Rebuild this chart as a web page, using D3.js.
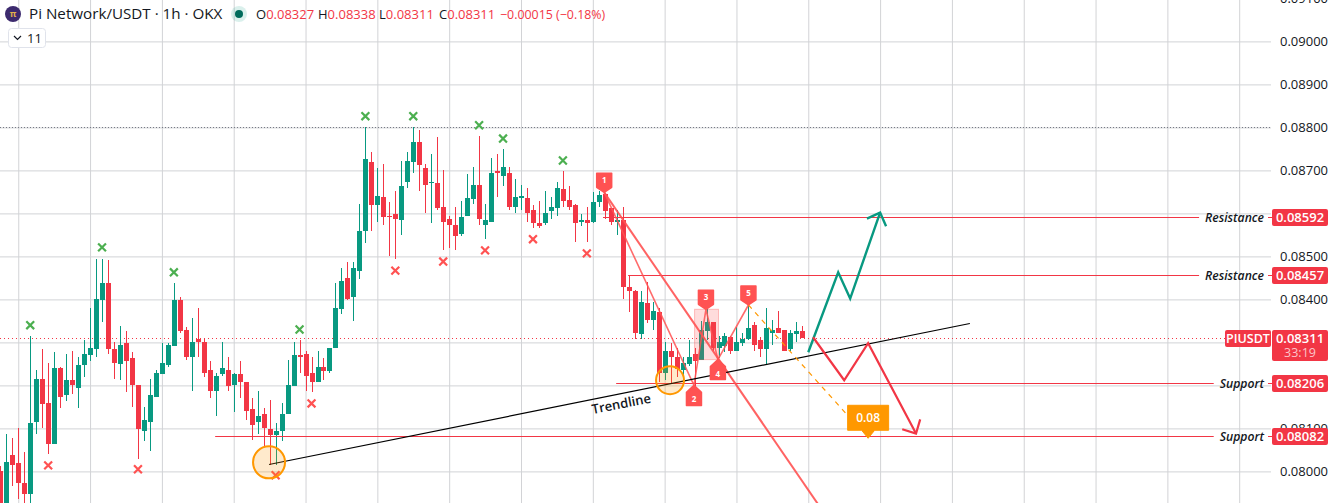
<!DOCTYPE html>
<html>
<head>
<meta charset="utf-8">
<script src="https://cdn.jsdelivr.net/npm/d3@7/dist/d3.min.js"></script>
<style>
  html, body { margin: 0; padding: 0; background: #fff; overflow: hidden; }
  svg { display: block; font-family: "Open Sans", sans-serif; }
</style>
</head>
<body>
<div id="chart"></div>
<script>
// Hourly candles, prices x 100000
var opens = [8000,7909,8037,8019,7974,7947,8116,8214,8158,8063,8240,8177,8212,8195,8247,8270,8284,8398,8437,8284,8249,8298,8263,8200,8095,8116,8174,8226,8247,8291,8398,8328,8265,8309,8302,8235,8186,8226,8235,8200,8226,8209,8144,8116,8133,8098,8084,8095,8133,8198,8270,8272,8228,8209,8242,8233,8286,8377,8449,8405,8467,8560,8719,8619,8637,8595,8598,8584,8672,8719,8767,8705,8670,8670,8614,8586,8574,8551,8593,8633,8667,8572,8581,8698,8686,8693,8614,8635,8635,8609,8577,8577,8605,8612,8656,8630,8619,8581,8584,8579,8626,8644,8612,8581,8584,8430,8419,8319,8391,8353,8370,8228,8279,8265,8235,8249,8272,8258,8326,8347,8288,8291,8312,8281,8298,8309,8340,8305,8284,8321,8333,8328,8284,8319,8327];
var highs = [8012,8088,8077,8100,8044,8314,8235,8284,8253,8277,8242,8274,8281,8267,8305,8379,8493,8495,8491,8302,8337,8326,8277,8200,8149,8214,8235,8298,8298,8437,8405,8335,8356,8379,8309,8256,8230,8300,8267,8228,8256,8209,8170,8188,8147,8165,8112,8158,8258,8300,8305,8279,8267,8279,8263,8288,8437,8472,8488,8488,8621,8800,8742,8705,8716,8626,8651,8723,8742,8800,8795,8714,8737,8777,8700,8595,8616,8628,8691,8707,8779,8621,8728,8737,8749,8707,8681,8667,8658,8619,8628,8651,8637,8674,8698,8663,8621,8598,8616,8649,8653,8647,8612,8607,8614,8456,8423,8419,8440,8395,8379,8302,8298,8288,8265,8305,8286,8349,8377,8347,8316,8323,8314,8335,8321,8386,8347,8312,8381,8351,8374,8328,8330,8347,8338];
var lows = [7886,7863,7965,7935,7926,7909,8086,8102,8040,8063,8147,8163,8179,8147,8219,8256,8265,8347,8272,8214,8212,8184,8149,8030,8070,8047,8174,8226,8242,8291,8321,8260,8188,8265,8219,8170,8130,8221,8188,8137,8170,8119,8074,8088,8058,8016,8016,8070,8133,8198,8228,8186,8184,8209,8212,8228,8286,8365,8398,8349,8447,8530,8560,8581,8572,8500,8493,8549,8660,8693,8651,8600,8577,8607,8514,8519,8514,8547,8593,8621,8572,8540,8581,8637,8663,8607,8600,8609,8579,8565,8567,8574,8588,8595,8616,8607,8533,8570,8533,8577,8614,8586,8572,8549,8400,8370,8307,8307,8344,8330,8207,8212,8205,8219,8214,8244,8195,8258,8305,8281,8263,8277,8272,8281,8291,8305,8279,8267,8249,8293,8321,8279,8281,8300,8311];
var closes = [7909,8021,8014,7972,7947,8112,8214,8156,8063,8240,8174,8212,8200,8247,8272,8286,8400,8437,8284,8253,8293,8256,8200,8098,8119,8177,8228,8253,8293,8398,8326,8265,8302,8300,8230,8186,8223,8240,8198,8226,8207,8140,8109,8128,8100,8084,8093,8133,8202,8270,8267,8223,8209,8242,8233,8286,8379,8442,8402,8472,8558,8726,8619,8640,8591,8591,8586,8663,8721,8767,8712,8667,8672,8612,8581,8572,8547,8591,8635,8667,8586,8584,8695,8693,8709,8614,8637,8640,8602,8577,8570,8602,8616,8658,8628,8614,8577,8584,8577,8626,8642,8605,8581,8584,8428,8419,8321,8393,8353,8372,8230,8279,8267,8237,8253,8267,8256,8328,8347,8288,8302,8314,8281,8300,8309,8333,8293,8284,8333,8330,8321,8281,8321,8326,8311];

// Swing marks: bar number and price x 100000
var swingHighBars = [5,17,29,50,61,69,80,84,94];
var swingHighPrices = [8340,8521,8463,8330,8826,8826,8805,8774,8723];
var swingLowBars = [8,23,46,52,66,74,81,89,98];
var swingLowPrices = [8014,8005,7991,8158,8467,8488,8514,8540,8507];

var yTicks = [0.091,0.09,0.089,0.088,0.087,0.086,0.085,0.084,0.083,0.082,0.081,0.08];
// these sit fully behind a price tag, so only their grid line shows
var coveredTicks = [0.086,0.083,0.082];
var gridBars = d3.range(3, 208, 12);

// Horizontal levels drawn on the chart
var levelPrices = [0.08592,0.08457,0.08206,0.08082];
var levelNames = ["Resistance","Resistance","Support","Support"];
var levelStartBars = [100.7,104.9,102.9,35.9];

var lastPrice = 0.08311;
var highLine = 0.088;
var countdown = "33:19";
var symbolName = "PIUSDT";

// Drawn tools as [bar, price x 100000]
var trendLine = [[44.9,8016],[162,8344]];
var wavePoints = [[100.9,8649],[115.9,8200],[117.9,8377],[119.9,8260],[125,8387]];
var waveLabels = ["1","2","3","4","5"];
var waveUp = [true,false,true,false,true];
var longRun = [[100.9,8649],[137.8,7900]];
var targetLine = [[125,8387],[141.6,8130]];
var targetTip = [145,8077];
var targetText = "0.08";
var patternBox = [[116,8377],[120,8260]];
var circleCentres = [[44.9,8021],[111.9,8212]];
var circleSizes = [16,14];
var greenPath = [[135,8277],[140,8463],[142,8402],[147,8602]];
var greenHead = [[144.8,8588],[147,8602],[148,8570]];
var redPath = [[135.8,8312],[141,8212],[145,8298],[153,8088]];
var redHead = [[150.7,8098],[153,8088],[153.7,8121]];
var trendLabel = [103.9,8147];

var legendTitle = "Pi Network/USDT · 1h · OKX";
var legendParts = [["O","0.08327",256],["H","0.08338",318],["L","0.08311",379],["C","0.08311",439]];
var legendChange = "−0.00015 (−0.18%)";

var svgWidth = 1335;
var svgHeight = 503;
var plotRight = 1271;
var labelLeft = 1272;
var labelWidth = 56;

var green = "#089981";
var red = "#f23645";
var coral = "#ff5252";
var orange = "#ff9800";
var gridColor = "#d2d3d6";

var svg = d3.select("#chart")
  .append("svg")
  .attr("width", svgWidth)
  .attr("height", svgHeight);

var xScale = d3.scaleLinear().domain([0, 207]).range([0.3, 1239.2]);
var yScale = d3.scaleLinear().domain([0.08, 0.09]).range([471.4, 41.4]);

function px(p) { return xScale(p[0]); }
function py(p) { return yScale(p[1] / 100000); }
var pathLine = d3.line().x(px).y(py);

// Grid and price axis
var xAxis = d3.axisBottom(xScale).tickValues(gridBars).tickSize(-svgHeight).tickFormat("");
var xGroup = svg.append("g").attr("transform", "translate(0," + svgHeight + ")").call(xAxis);
xGroup.select(".domain").remove();
xGroup.selectAll("line").attr("stroke", gridColor);

var yAxis = d3.axisRight(yScale)
  .tickValues(yTicks)
  .tickSize(-plotRight)
  .tickPadding(9)
  .tickFormat(d => coveredTicks.includes(d) ? "" : d3.format(".5f")(d));
var yGroup = svg.append("g").attr("transform", "translate(" + plotRight + ",0)").call(yAxis);
yGroup.select(".domain").remove();
yGroup.selectAll("line").attr("stroke", gridColor);
yGroup.selectAll("text")
  .attr("font-size", "13px")
  .attr("font-family", "'Open Sans', sans-serif")
  .attr("fill", "#131722");

// Dotted price lines
svg.append("line")
  .attr("x1", 0).attr("x2", plotRight)
  .attr("y1", Math.round(yScale(highLine)) + 0.5).attr("y2", Math.round(yScale(highLine)) + 0.5)
  .attr("stroke", "#787b86").attr("stroke-dasharray", "1 2");
svg.append("line")
  .attr("x1", 0).attr("x2", 1225)
  .attr("y1", Math.round(yScale(lastPrice)) + 0.5).attr("y2", Math.round(yScale(lastPrice)) + 0.5)
  .attr("stroke", red).attr("stroke-dasharray", "1 3");

// Candles
var candles = opens.map(function(o, i) {
  return { bar: i, open: o / 100000, high: highs[i] / 100000, low: lows[i] / 100000, close: closes[i] / 100000 };
});
var candleColor = function(d) { return d.close >= d.open ? green : red; };

svg.selectAll(".wick")
  .data(candles)
  .enter()
  .append("rect")
  .attr("class", "wick")
  .attr("x", d => Math.round(xScale(d.bar)))
  .attr("width", 1)
  .attr("y", d => Math.round(yScale(d.high)))
  .attr("height", d => Math.max(1, Math.round(yScale(d.low)) - Math.round(yScale(d.high))))
  .attr("fill", candleColor);

svg.selectAll(".body")
  .data(candles)
  .enter()
  .append("rect")
  .attr("class", "body")
  .attr("x", d => Math.round(xScale(d.bar)) - 2)
  .attr("width", 5)
  .attr("y", d => Math.round(yScale(Math.max(d.open, d.close))))
  .attr("height", d => Math.max(1, Math.round(yScale(Math.min(d.open, d.close))) - Math.round(yScale(Math.max(d.open, d.close)))))
  .attr("fill", candleColor);

// Swing high / low crosses
var crossPath = d3.symbol().type(d3.symbolX).size(42);
swingHighBars.forEach(function(b, i) {
  svg.append("path").attr("d", crossPath)
    .attr("transform", "translate(" + xScale(b) + "," + yScale(swingHighPrices[i] / 100000) + ")")
    .attr("fill", "none").attr("stroke", "#4caf50").attr("stroke-width", 2.2);
});
swingLowBars.forEach(function(b, i) {
  svg.append("path").attr("d", crossPath)
    .attr("transform", "translate(" + xScale(b) + "," + yScale(swingLowPrices[i] / 100000) + ")")
    .attr("fill", "none").attr("stroke", coral).attr("stroke-width", 2.2);
});

// Levels with their names and price tags
levelPrices.forEach(function(p, i) {
  var y = Math.round(yScale(p)) + 0.5;
  var name = svg.append("text")
    .attr("x", 1264).attr("y", y + 4)
    .attr("text-anchor", "end")
    .attr("font-family", "'Open Sans', sans-serif")
    .attr("font-size", "12.2px").attr("font-style", "italic").attr("font-weight", 600)
    .attr("fill", "#131722")
    .text(levelNames[i]);
  var nameWidth = name.node().getComputedTextLength();
  svg.append("line")
    .attr("x1", xScale(levelStartBars[i])).attr("x2", 1264 - nameWidth - 6)
    .attr("y1", y).attr("y2", y)
    .attr("stroke", red);
  svg.append("line")
    .attr("x1", 1268).attr("x2", labelLeft)
    .attr("y1", y).attr("y2", y)
    .attr("stroke", red);
  svg.append("rect")
    .attr("x", labelLeft).attr("y", y - 8.5)
    .attr("width", labelWidth).attr("height", 17)
    .attr("rx", 2).attr("fill", red);
  svg.append("text")
    .attr("x", labelLeft + labelWidth / 2).attr("y", y + 4.5)
    .attr("text-anchor", "middle")
    .attr("font-size", "13px").attr("font-weight", 600)
    .attr("fill", "#fff")
    .text(d3.format(".5f")(p));
});

// Last price tag
var lastY = Math.round(yScale(lastPrice));
svg.append("rect").attr("x", 1225).attr("y", lastY - 8).attr("width", 46).attr("height", 17).attr("rx", 2).attr("fill", red);
svg.append("text").attr("x", 1248).attr("y", lastY + 5)
  .attr("text-anchor", "middle").attr("font-size", "12.5px").attr("font-weight", 600).attr("fill", "#fff").text(symbolName);
svg.append("rect").attr("x", labelLeft).attr("y", lastY - 8).attr("width", labelWidth).attr("height", 31).attr("rx", 2).attr("fill", red);
svg.append("text").attr("x", labelLeft + labelWidth / 2).attr("y", lastY + 5)
  .attr("text-anchor", "middle").attr("font-size", "13px").attr("font-weight", 600).attr("fill", "#fff").text(d3.format(".5f")(lastPrice));
svg.append("text").attr("x", labelLeft + labelWidth / 2).attr("y", lastY + 19)
  .attr("text-anchor", "middle").attr("font-size", "12.5px").attr("fill", "#fcc5ca").text(countdown);

// Pattern box, wave and long diagonal
svg.append("rect")
  .attr("x", px(patternBox[0])).attr("y", py(patternBox[0]))
  .attr("width", px(patternBox[1]) - px(patternBox[0]))
  .attr("height", py(patternBox[1]) - py(patternBox[0]))
  .attr("fill", coral).attr("fill-opacity", 0.2)
  .attr("stroke", coral).attr("stroke-opacity", 0.35);

svg.append("path").attr("d", pathLine(wavePoints))
  .attr("fill", "none").attr("stroke", coral).attr("stroke-width", 1.6).attr("stroke-opacity", 0.85);
svg.append("path").attr("d", pathLine(longRun))
  .attr("fill", "none").attr("stroke", coral).attr("stroke-width", 2).attr("stroke-opacity", 0.9);

// Trendline and circles
svg.append("path").attr("d", pathLine(trendLine))
  .attr("fill", "none").attr("stroke", "#000").attr("stroke-width", 1.2);
circleCentres.forEach(function(c, i) {
  svg.append("circle")
    .attr("cx", px(c)).attr("cy", py(c)).attr("r", circleSizes[i])
    .attr("fill", orange).attr("fill-opacity", 0.2)
    .attr("stroke", orange).attr("stroke-width", 2);
});
svg.append("text")
  .attr("transform", "translate(" + px(trendLabel) + "," + py(trendLabel) + ") rotate(-11)")
  .attr("text-anchor", "middle")
  .attr("font-size", "13px").attr("font-weight", 600)
  .attr("fill", "#131722")
  .text("Trendline");

// Projected paths
svg.append("path").attr("d", pathLine(targetLine))
  .attr("fill", "none").attr("stroke", orange).attr("stroke-width", 1.2).attr("stroke-dasharray", "5 5");
[greenPath, greenHead].forEach(function(p) {
  svg.append("path").attr("d", pathLine(p))
    .attr("fill", "none").attr("stroke", green).attr("stroke-width", 2.4);
});
[redPath, redHead].forEach(function(p) {
  svg.append("path").attr("d", pathLine(p))
    .attr("fill", "none").attr("stroke", red).attr("stroke-width", 2.2);
});

// Target tag
var tipX = px(targetTip), tipY = py(targetTip);
svg.append("path")
  .attr("d", "M" + (tipX - 20.5) + "," + (tipY - 33) + "h41v25h-14l-6.5,8l-6.5,-8h-14z")
  .attr("fill", orange).attr("stroke", orange).attr("stroke-linejoin", "round");
svg.append("text").attr("x", tipX).attr("y", tipY - 16)
  .attr("text-anchor", "middle").attr("font-size", "12px").attr("font-weight", 600).attr("fill", "#fff").text(targetText);

// Wave number flags
wavePoints.forEach(function(p, i) {
  var x = px(p), y = py(p);
  var d = waveUp[i]
    ? "M" + x + "," + y + "l-7.5,-5v-14h15v14z"
    : "M" + x + "," + y + "l-7.5,7v13h15v-13z";
  svg.append("path").attr("d", d)
    .attr("fill", coral).attr("stroke", coral).attr("stroke-width", 1.5).attr("stroke-linejoin", "round");
  svg.append("text")
    .attr("x", x).attr("y", waveUp[i] ? y - 9 : y + 17)
    .attr("text-anchor", "middle")
    .attr("font-size", "8px").attr("font-weight", 700).attr("fill", "#fff")
    .text(waveLabels[i]);
});

// Legend
var legend = svg.append("g");
legend.append("circle").attr("cx", 13).attr("cy", 14).attr("r", 8).attr("fill", "#3c2a6e");
legend.append("text").attr("x", 13).attr("y", 17)
  .attr("text-anchor", "middle").attr("font-size", "9px").attr("font-weight", 700).attr("fill", "#e0b04c").text("π");
legend.append("text").attr("x", 29).attr("y", 19)
  .attr("font-size", "15.2px").attr("fill", "#131722").text(legendTitle);
legend.append("circle").attr("cx", 239).attr("cy", 14).attr("r", 8).attr("fill", green).attr("fill-opacity", 0.15);
legend.append("circle").attr("cx", 239).attr("cy", 14).attr("r", 4).attr("fill", "#006b5b");
legendParts.forEach(function(part) {
  var t = legend.append("text").attr("x", part[2]).attr("y", 19).attr("font-size", "13px").attr("fill", "#131722");
  t.append("tspan").text(part[0]);
  t.append("tspan").attr("fill", red).text(part[1]);
});
legend.append("text").attr("x", 500).attr("y", 19).attr("font-size", "12.4px").attr("fill", red).text(legendChange);

legend.append("rect").attr("x", 8.5).attr("y", 28.5).attr("width", 37).attr("height", 19).attr("rx", 3)
  .attr("fill", "#fff").attr("stroke", "#e0e3eb");
legend.append("path").attr("d", "M14,36l3.5,3.5l3.5,-3.5").attr("fill", "none").attr("stroke", "#131722").attr("stroke-width", 1.2);
legend.append("text").attr("x", 27).attr("y", 43).attr("font-size", "13px").attr("fill", "#131722").text("11");
</script>
</body>
</html>
